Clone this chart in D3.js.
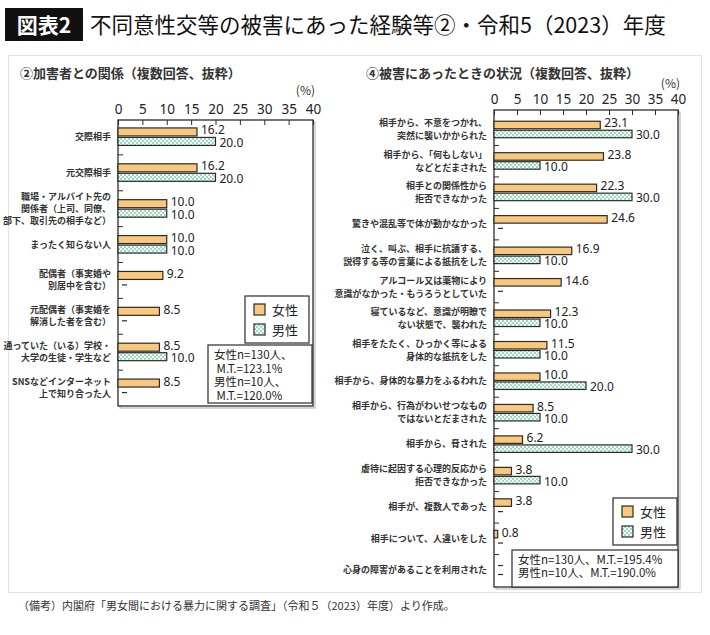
<!DOCTYPE html>
<html>
<head>
<meta charset="utf-8">
<script src="https://cdn.jsdelivr.net/npm/d3@7"></script>
<style>
  body { margin: 0; background: #fff; }
  svg { display: block; font-family: "Noto Sans CJK JP", "Noto Sans", sans-serif; }
</style>
</head>
<body>
<div id="canvas"></div>
<script>
var WIDTH = 710
var HEIGHT = 635

// data
var leftCats = [
  ['交際相手'],
  ['元交際相手'],
  ['職場・アルバイト先の', '関係者（上司、同僚、', '部下、取引先の相手など）'],
  ['まったく知らない人'],
  ['配偶者（事実婚や', '別居中を含む）'],
  ['元配偶者（事実婚を', '解消した者を含む）'],
  ['通っていた（いる）学校・', '大学の生徒・学生など'],
  ['SNSなどインターネット', '上で知り合った人']
]
var leftFemale = [16.2, 16.2, 10.0, 10.0, 9.2, 8.5, 8.5, 8.5]
var leftMale = [20.0, 20.0, 10.0, 10.0, 0, 0, 10.0, 0]

var rightCats = [
  ['相手から、不意をつかれ、', '突然に襲いかかられた'],
  ['相手から、「何もしない」', 'などとだまされた'],
  ['相手との関係性から', '拒否できなかった'],
  ['驚きや混乱等で体が動かなかった'],
  ['泣く、叫ぶ、相手に抗議する、', '説得する等の言葉による抵抗をした'],
  ['アルコール又は薬物により', '意識がなかった・もうろうとしていた'],
  ['寝ているなど、意識が明瞭で', 'ない状態で、襲われた'],
  ['相手をたたく、ひっかく等による', '身体的な抵抗をした'],
  ['相手から、身体的な暴力をふるわれた'],
  ['相手から、行為がわいせつなもの', 'ではないとだまされた'],
  ['相手から、脅された'],
  ['虐待に起因する心理的反応から', '拒否できなかった'],
  ['相手が、複数人であった'],
  ['相手について、人違いをした'],
  ['心身の障害があることを利用された']
]
var rightFemale = [23.1, 23.8, 22.3, 24.6, 16.9, 14.6, 12.3, 11.5, 10.0, 8.5, 6.2, 3.8, 3.8, 0.8, 0]
var rightMale = [30.0, 10.0, 30.0, 0, 10.0, 0, 10.0, 10.0, 20.0, 10.0, 30.0, 10.0, 0, 0, 0]

var xTicks = [0, 5, 10, 15, 20, 25, 30, 35, 40]
var seriesNames = ['女性', '男性']
var leftNotes = ['女性n=130人、', ' M.T.=123.1%', '男性n=10人、', ' M.T.=120.0%']
var rightNotes = ['女性n=130人、M.T.=195.4%', '男性n=10人、M.T.=190.0%']

var FEMALE = '#f9c87c'
var INK = '#2b2b2b'

var svg = d3.select('#canvas').append('svg')
  .attr('width', WIDTH)
  .attr('height', HEIGHT)

var defs = svg.append('defs')
var pat = defs.append('pattern')
  .attr('id', 'check')
  .attr('patternUnits', 'userSpaceOnUse')
  .attr('width', 4)
  .attr('height', 4)
pat.append('rect').attr('width', 4).attr('height', 4).attr('fill', '#9fd9c2')
pat.append('rect').attr('width', 2).attr('height', 2).attr('fill', '#f4fbf8')
pat.append('rect').attr('x', 2).attr('y', 2).attr('width', 2).attr('height', 2).attr('fill', '#f4fbf8')

// title
svg.append('rect').attr('x', 5).attr('y', 8).attr('width', 78).attr('height', 33).attr('fill', '#111')
svg.append('text').attr('x', 44).attr('y', 33).attr('text-anchor', 'middle')
  .attr('fill', '#fff').attr('font-size', 21).attr('font-weight', 'bold').text('図表2')
svg.append('text').attr('x', 90).attr('y', 33)
  .attr('fill', '#111').attr('font-size', 21.5).text('不同意性交等の被害にあった経験等②・令和5（2023）年度')

// panel
svg.append('rect').attr('x', 8.5).attr('y', 55.5).attr('width', 693).attr('height', 537)
  .attr('fill', 'none').attr('stroke', '#e2e2e2')

var drawChart = function (opt) {
  var x = d3.scaleLinear().domain([0, 40]).range([opt.x0, opt.x1])
  var y = d3.scaleBand().domain(d3.range(opt.cats.length)).range([opt.bandTop, opt.bandBottom])
  var g = svg.append('g')

  g.append('text').attr('x', opt.subX).attr('y', 78).attr('font-size', 13).attr('font-weight', 'bold')
    .attr('fill', '#333').text(opt.subtitle)
  g.append('text').attr('x', opt.x1 + 2).attr('y', opt.pctY).attr('text-anchor', 'end')
    .attr('font-size', 12).attr('fill', '#333').text('(%)')

  // shadow + box
  g.append('rect').attr('x', opt.x0 + 2).attr('y', opt.boxTop + 2)
    .attr('width', opt.x1 - opt.x0).attr('height', opt.boxBottom - opt.boxTop)
    .attr('fill', 'none').attr('stroke', '#bbb').attr('stroke-width', 1.2)
  g.append('rect').attr('x', opt.x0).attr('y', opt.boxTop)
    .attr('width', opt.x1 - opt.x0).attr('height', opt.boxBottom - opt.boxTop)
    .attr('fill', '#fff').attr('stroke', INK).attr('stroke-width', 1.3)

  var axis = d3.axisTop(x).tickValues(xTicks).tickSize(-5).tickPadding(6)
  var ax = g.append('g').attr('transform', 'translate(0,' + opt.boxTop + ')').call(axis)
  ax.select('.domain').remove()
  ax.selectAll('line').attr('stroke', INK)
  ax.selectAll('text').attr('font-size', 13.5).attr('fill', '#222')
    .attr('font-family', 'Noto Sans, sans-serif')

  // group boundary ticks
  g.selectAll('.gtick').data(d3.range(1, opt.cats.length)).enter().append('line')
    .attr('x1', opt.x0).attr('x2', opt.x0 + 5)
    .attr('y1', function (i) { return y(i) }).attr('y2', function (i) { return y(i) })
    .attr('stroke', INK)

  // category labels
  opt.cats.forEach(function (lines, i) {
    var c = y(i) + y.bandwidth() / 2
    var t = g.append('text').attr('text-anchor', 'end').attr('font-size', 9)
      .attr('fill', '#333').attr('font-weight', 'bold')
    lines.forEach(function (ln, k) {
      t.append('tspan').attr('x', opt.x0 - 7)
        .attr('y', c + (k - (lines.length - 1) / 2) * opt.lineH + 3).text(ln)
    })
  })

  var series = [
    {vals: opt.female, fill: FEMALE, off: -opt.barH - 1, lab: -1.5},
    {vals: opt.male, fill: 'url(#check)', off: 0.5, lab: 1.5}
  ]
  series.forEach(function (s) {
    s.vals.forEach(function (v, i) {
      var top = y(i) + y.bandwidth() / 2 + s.off
      if (v === 0) {
        g.append('line').attr('x1', x(0) + 4).attr('x2', x(0) + 9)
          .attr('y1', top + opt.barH / 2).attr('y2', top + opt.barH / 2)
          .attr('stroke', INK).attr('stroke-width', 1.2)
        return
      }
      g.append('rect').attr('x', x(0)).attr('y', top)
        .attr('width', x(v) - x(0)).attr('height', opt.barH)
        .attr('fill', s.fill).attr('stroke', INK).attr('stroke-width', 1.2)
      g.append('text').attr('x', x(v) + 4).attr('y', top + opt.barH / 2 + 4 + s.lab)
        .attr('font-size', 12).attr('fill', '#222')
        .attr('font-family', 'Noto Sans, sans-serif').text(v.toFixed(1))
    })
  })

  // legend
  var lg = g.append('g')
  lg.append('rect').attr('x', opt.leg[0]).attr('y', opt.leg[1]).attr('width', opt.leg[2]).attr('height', opt.leg[3])
    .attr('fill', '#fff').attr('stroke', INK).attr('stroke-width', 1.2)
  seriesNames.forEach(function (nm, k) {
    var sy = opt.leg[1] + 8 + k * 20
    lg.append('rect').attr('x', opt.leg[0] + 9).attr('y', sy).attr('width', 11).attr('height', 11)
      .attr('fill', k === 0 ? FEMALE : 'url(#check)').attr('stroke', INK).attr('stroke-width', 1.2)
    lg.append('text').attr('x', opt.leg[0] + 27).attr('y', sy + 10.5).attr('font-size', 13)
      .attr('fill', '#222').text(nm)
  })

  // note
  g.append('rect').attr('x', opt.note[0]).attr('y', opt.note[1]).attr('width', opt.note[2]).attr('height', opt.note[3])
    .attr('fill', '#fff').attr('stroke', INK).attr('stroke-width', 1.2)
  var nt = g.append('text').attr('font-size', 11.5).attr('fill', '#222')
  opt.notes.forEach(function (ln, k) {
    nt.append('tspan').attr('x', opt.note[0] + opt.noteX).attr('y', opt.note[1] + 14 + k * opt.noteH)
      .text(ln)
  })
}

drawChart({
  cats: leftCats, female: leftFemale, male: leftMale,
  subtitle: '②加害者との関係（複数回答、抜粋）', subX: 20, pctY: 95,
  x0: 118, x1: 313, boxTop: 120, boxBottom: 406, bandTop: 119, bandBottom: 406,
  barH: 8, lineH: 12,
  leg: [245, 296, 64, 47], note: [208, 345, 104, 58], notes: leftNotes, noteX: 6, noteH: 13.5
})

drawChart({
  cats: rightCats, female: rightFemale, male: rightMale,
  subtitle: '④被害にあったときの状況（複数回答、抜粋）', subX: 366, pctY: 88,
  x0: 494, x1: 678, boxTop: 110, boxBottom: 587, bandTop: 114, bandBottom: 586,
  barH: 7.5, lineH: 13,
  leg: [613, 498, 64, 47], note: [512, 550, 166, 37], notes: rightNotes, noteX: 6, noteH: 13
})

svg.append('text').attr('x', 18).attr('y', 610).attr('font-size', 11).attr('fill', '#333')
  .text('（備考）内閣府「男女間における暴力に関する調査」（令和５（2023）年度）より作成。')
</script>
</body>
</html>
